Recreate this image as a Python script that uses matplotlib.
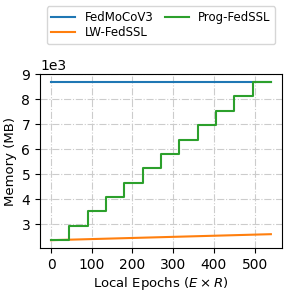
import numpy as np
import matplotlib
matplotlib.use("Agg")
import matplotlib.pyplot as plt

epochs = [0, 45, 90, 135, 180, 225, 270, 315, 360, 405, 450, 495, 540]
fedmoco = [8680, 8680, 8680, 8680, 8680, 8680, 8680, 8680, 8680, 8680, 8680, 8680, 8680]
lwfedssl = [2360, 2380, 2400, 2420, 2440, 2460, 2480, 2500, 2520, 2540, 2560, 2580, 2600]
prog_levels = [2360, 2930, 3510, 4080, 4660, 5230, 5810, 6380, 6960, 7530, 8110, 8680, 8680]

fig = plt.figure(figsize=(2.9, 2.95), dpi=100)
ax = fig.add_axes([0.138, 0.159, 0.834, 0.590])

ax.plot(epochs, fedmoco, color="#1f77b4", lw=1.5, label="FedMoCoV3")
ax.plot(epochs, lwfedssl, color="#ff7f0e", lw=1.5, label="LW-FedSSL")
ax.step(epochs, prog_levels, where="post", color="#2ca02c", lw=1.5, label="Prog-FedSSL")

ax.set_yticks([3000, 4000, 5000, 6000, 7000, 8000, 9000])
ax.ticklabel_format(axis="y", style="sci", scilimits=(0, 0))
ax.grid(True, linestyle="-.", color="#cccccc", lw=0.8)
ax.set_xticks([0, 100, 200, 300, 400, 500])
ax.set_xlabel(r"Local Epochs ($E \times R$)", fontsize=9.5, labelpad=2)
ax.set_ylabel("Memory (MB)", fontsize=9.5, labelpad=3)

fig.legend(loc="lower center", bbox_to_anchor=(0.555, 0.851), ncol=2,
           borderaxespad=0, fontsize=8.5,
           handlelength=2, columnspacing=1.0, labelspacing=0.2, handletextpad=0.8)

fig.savefig("out.png", dpi=100)
